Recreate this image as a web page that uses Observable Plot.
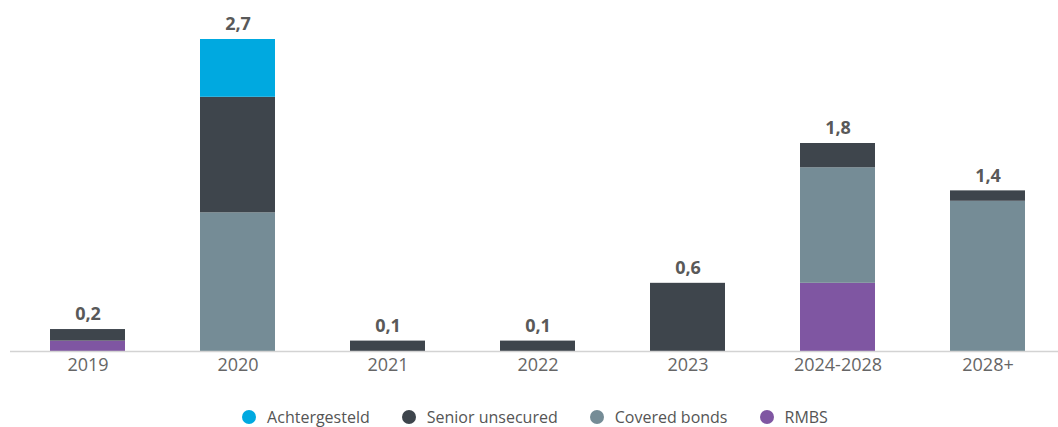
<!DOCTYPE html>
<html>
<head>
<meta charset="utf-8">
<script src="https://cdn.jsdelivr.net/npm/d3@7"></script>
<script src="https://cdn.jsdelivr.net/npm/@observablehq/plot@0.6"></script>
<style>
  html, body { margin: 0; padding: 0; background: #fff; }
  body { width: 1058px; height: 427px; overflow: hidden; font-family: "Open Sans", sans-serif; }
  .legend { position: relative; height: 30px; width: 1058px; margin-top: 12px; display: flex; justify-content: center; align-items: center; font-size: 16px; line-height: 18px; color: #555; padding-left: 12px; box-sizing: border-box; }
  .legend .item { display: flex; align-items: center; margin: 0 16px; }
  .legend .sw { width: 14px; height: 14px; border-radius: 50%; margin-right: 11px; }
</style>
</head>
<body>
<div id="chart"></div>
<div class="legend" id="legend"></div>
<script>
const categories = ["2019", "2020", "2021", "2022", "2023", "2024-2028", "2028+"];
const seriesNames = ["Achtergesteld", "Senior unsecured", "Covered bonds", "RMBS"];
const seriesColors = ["#00a9e0", "#3e454c", "#758c96", "#7f56a2"];
const achtergesteld = [0, 0.5, 0, 0, 0, 0, 0];
const seniorUnsecured = [0.1, 1.0, 0.09, 0.09, 0.59, 0.21, 0.09];
const coveredBonds = [0, 1.2, 0, 0, 0, 1.0, 1.3];
const rmbs = [0.09, 0, 0, 0, 0, 0.59, 0];

const seriesValues = {
  "Achtergesteld": achtergesteld,
  "Senior unsecured": seniorUnsecured,
  "Covered bonds": coveredBonds,
  "RMBS": rmbs
};
const stackOrder = ["RMBS", "Covered bonds", "Senior unsecured", "Achtergesteld"];

const rows = [];
for (const s of stackOrder) {
  categories.forEach((c, i) => {
    if (seriesValues[s][i] > 0) rows.push({cat: c, series: s, value: seriesValues[s][i]});
  });
}
const totals = categories.map((c, i) => ({
  cat: c,
  total: seriesNames.reduce((a, s) => a + seriesValues[s][i], 0)
}));
const fmt = v => v.toFixed(1).replace(".", ",");

const chart = Plot.plot({
  width: 1058,
  height: 390,
  marginLeft: 10,
  marginRight: 0,
  marginTop: 0,
  marginBottom: 39,
  style: {fontFamily: "Open Sans, sans-serif", color: "#666", background: "#fff"},
  x: {domain: categories, range: [12.5, 1062.5], paddingInner: 0.5, paddingOuter: 0.25, label: null},
  y: {domain: [0, 2.7], range: [351, 39], axis: null},
  color: {domain: seriesNames, range: seriesColors},
  marks: [
    Plot.barY(rows, {x: "cat", y: "value", fill: "series", order: stackOrder}),
    Plot.ruleY([0], {stroke: "#d3d3d3", strokeWidth: 1.5}),
    Plot.text(totals, {x: "cat", y: "total", text: d => fmt(d.total), dy: -15, fontSize: 18, fontWeight: "bold", fill: "#595959"}),
    Plot.axisX({tickSize: 0, tickPadding: 7, fontSize: 18, fill: "#666"})
  ]
});
document.getElementById("chart").appendChild(chart);

const legend = document.getElementById("legend");
seriesNames.forEach((s, i) => {
  const item = document.createElement("div");
  item.className = "item";
  const sw = document.createElement("span");
  sw.className = "sw";
  sw.style.background = seriesColors[i];
  const t = document.createElement("span");
  t.textContent = s;
  item.appendChild(sw);
  item.appendChild(t);
  legend.appendChild(item);
});
</script>
</body>
</html>
